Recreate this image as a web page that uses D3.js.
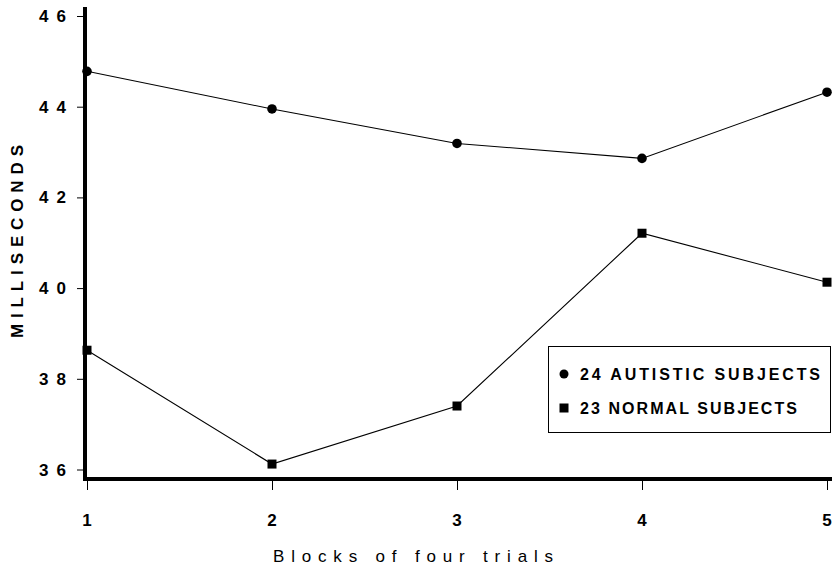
<!DOCTYPE html>
<html><head><meta charset="utf-8">
<script src="https://cdn.jsdelivr.net/npm/d3@7"></script>
<style>html,body{margin:0;padding:0;background:#fff}svg{display:block}</style>
</head><body><svg id="c" width="832" height="567"></svg>
<script>
const blocks = [1, 2, 3, 4, 5];
const autistic = [44.78, 43.95, 43.19, 42.86, 44.32];
const normal = [38.63, 36.12, 37.40, 41.21, 40.13];
const yTicks = [36, 38, 40, 42, 44, 46];
const seriesNames = ["24 AUTISTIC SUBJECTS", "23 NORMAL SUBJECTS"];
const xTitle = "Blocks of four trials";
const yTitle = "MILLISECONDS";

const svg = d3.select("#c");
const font = "'Liberation Sans', Arial, Helvetica, sans-serif";
const x = d3.scaleLinear().domain([1, 5]).range([87, 827]);
const y = d3.scaleLinear().domain([36, 46]).range([469.5, 16]);

// y axis ticks
const yAxis = d3.axisLeft(y).tickValues(yTicks).tickSize(6).tickFormat("");
const gy = svg.append("g").attr("transform", "translate(83,0)").call(yAxis);
gy.select(".domain").remove();
gy.selectAll(".tick line").attr("stroke", "#000").attr("stroke-width", 1);
svg.append("g").selectAll("text").data(yTicks).join("text")
  .attr("x", 66).attr("y", d => y(d) + 6)
  .attr("text-anchor", "end")
  .attr("font-family", font).attr("font-weight", "bold").attr("font-size", 17)
  .attr("textLength", 27).attr("lengthAdjust", "spacing")
  .text(d => String(d));

// x axis ticks
const xAxis = d3.axisBottom(x).tickValues(blocks).tickSize(9).tickFormat("");
const gx = svg.append("g").attr("transform", "translate(0,481)").call(xAxis);
gx.select(".domain").remove();
gx.selectAll(".tick line").attr("stroke", "#000").attr("stroke-width", 1);
svg.append("g").selectAll("text").data(blocks).join("text")
  .attr("x", d => x(d)).attr("y", 526)
  .attr("text-anchor", "middle")
  .attr("font-family", font).attr("font-weight", "bold").attr("font-size", 17)
  .text(d => d);

// thick axis lines
svg.append("line").attr("x1", 85).attr("x2", 85).attr("y1", 7).attr("y2", 481)
  .attr("stroke", "#000").attr("stroke-width", 4);
svg.append("line").attr("x1", 83).attr("x2", 832).attr("y1", 479).attr("y2", 479)
  .attr("stroke", "#000").attr("stroke-width", 4);

// lines
const line = d3.line().x((d, i) => x(blocks[i])).y(d => y(d));
svg.append("path").attr("d", line(autistic)).attr("fill", "none").attr("stroke", "#000").attr("stroke-width", 1.1);
svg.append("path").attr("d", line(normal)).attr("fill", "none").attr("stroke", "#000").attr("stroke-width", 1.1);

// markers
svg.append("g").selectAll("circle").data(autistic).join("circle")
  .attr("cx", (d, i) => x(blocks[i])).attr("cy", d => y(d)).attr("r", 4.8).attr("fill", "#000");
svg.append("g").selectAll("rect").data(normal).join("rect")
  .attr("x", (d, i) => x(blocks[i]) - 4.5).attr("y", d => y(d) - 4.5)
  .attr("width", 9).attr("height", 9).attr("fill", "#000");

// legend
const lg = svg.append("g");
lg.append("rect").attr("x", 548.5).attr("y", 346.5).attr("width", 282).attr("height", 86)
  .attr("fill", "#fff").attr("stroke", "#000").attr("stroke-width", 1);
lg.append("circle").attr("cx", 564).attr("cy", 374).attr("r", 4.5).attr("fill", "#000");
lg.append("rect").attr("x", 559.5).attr("y", 403.5).attr("width", 9).attr("height", 9).attr("fill", "#000");
lg.append("text").attr("x", 580).attr("y", 380)
  .attr("font-family", font).attr("font-weight", "bold").attr("font-size", 16)
  .attr("textLength", 240).attr("lengthAdjust", "spacing").text(seriesNames[0]);
lg.append("text").attr("x", 580).attr("y", 414)
  .attr("font-family", font).attr("font-weight", "bold").attr("font-size", 16)
  .attr("textLength", 217).attr("lengthAdjust", "spacing").text(seriesNames[1]);

// axis titles
svg.append("text").attr("x", 273).attr("y", 562)
  .attr("font-family", font).attr("font-size", 17)
  .attr("textLength", 280).attr("lengthAdjust", "spacing").text(xTitle);
svg.append("text").attr("transform", "translate(23,338) rotate(-90)")
  .attr("font-family", font).attr("font-weight", "bold").attr("font-size", 17)
  .attr("textLength", 193).attr("lengthAdjust", "spacing").text(yTitle);
</script></body></html>
